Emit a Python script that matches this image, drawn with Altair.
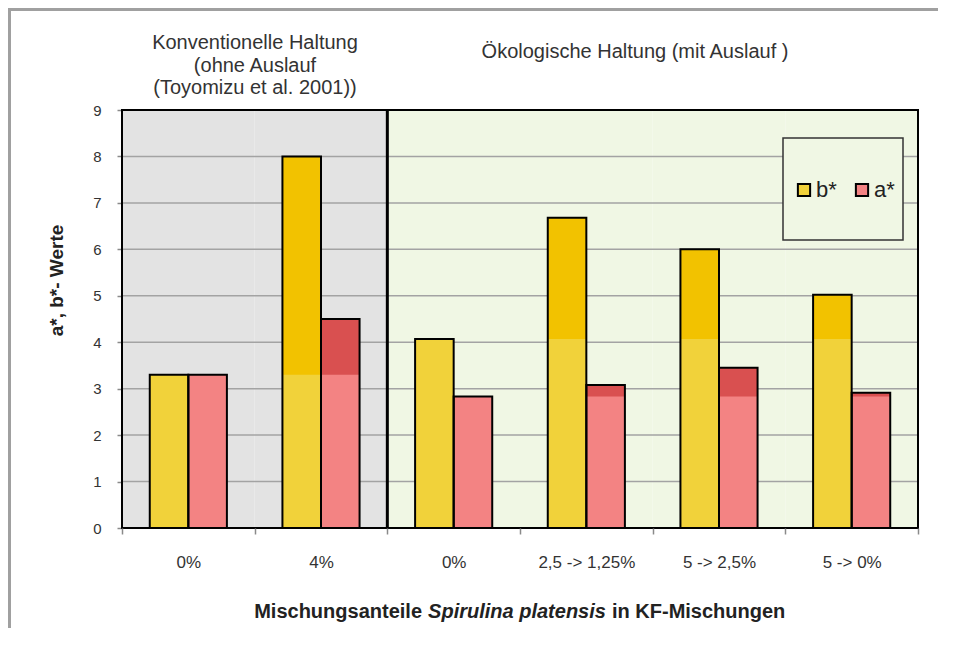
import altair as alt
import pandas as pd

# ---- data ----
categories = ["0%|k", "4%|k", "0%|o", "2,5 -> 1,25%|o", "5 -> 2,5%|o", "5 -> 0%|o"]
groups = ["k", "k", "o", "o", "o", "o"]
series = ["b*", "a*"]
b_values = [3.3, 8.0, 4.07, 6.68, 6.0, 5.02]
a_values = [3.3, 4.5, 2.83, 3.08, 3.45, 2.91]
b_control = [3.3, 3.3, 4.07, 4.07, 4.07, 4.07]
a_control = [3.3, 3.3, 2.83, 2.83, 2.83, 2.83]
y_ticks = [0, 1, 2, 3, 4, 5, 6, 7, 8, 9]
grid_ticks = [1, 2, 3, 4, 5, 6, 7, 8]

rows = []
for i, c in enumerate(categories):
    rows.append({"cat": c, "series": "b*", "value": b_values[i], "base": b_control[i]})
    rows.append({"cat": c, "series": "a*", "value": a_values[i], "base": a_control[i]})
bars = pd.DataFrame(rows)
tops = bars[bars["value"] > bars["base"] + 0.01]
bg = pd.DataFrame({"cat": categories, "group": groups})
grid = pd.DataFrame({"tick": grid_ticks})
one = pd.DataFrame({"cat": ["0%|o"]})

W, H = 796, 418
FONT = "Liberation Sans"

B_BASE, B_TOP = "#F1D23A", "#F2C200"
A_BASE, A_TOP = "#F38383", "#D95050"
GRAY_BG, GREEN_BG = "#E3E3E3", "#F0F7E4"

x_scale = alt.Scale(domain=categories, paddingInner=0, paddingOuter=0)
x_axis = alt.Axis(title=None, labelExpr="split(datum.label, '|')[0]", labelAngle=0,
                  tickBand="extent", tickColor="#8a8a8a", tickSize=6, tickWidth=1.5,
                  labelPadding=20, labelFontSize=17, labelColor="#333", labelFont=FONT,
                  domain=False, grid=False)
y_scale = alt.Scale(domain=[0, 9], nice=False)
y_axis = alt.Axis(title="a*, b*- Werte", values=y_ticks, grid=False, domain=False,
                  tickColor="#8a8a8a", tickSize=5, tickWidth=1.5, labelPadding=16,
                  labelFontSize=15, labelColor="#333", labelFont=FONT,
                  titleFontSize=19, titleFontWeight="bold", titleColor="#222",
                  titleFont=FONT, titlePadding=26, titleY=170)
xoff = alt.XOffset("series:N", scale=alt.Scale(domain=series, paddingOuter=0.72, paddingInner=0))

X = alt.X("cat:N", scale=x_scale, axis=x_axis)

background = alt.Chart(bg).mark_rect().encode(
    x=X, y=alt.value(0), y2=alt.value(H),
    color=alt.condition("datum.group === 'k'", alt.value(GRAY_BG), alt.value(GREEN_BG)),
)

gridlines = alt.Chart(grid).mark_rule(color="#a3a3a3", strokeWidth=1.5).encode(
    y=alt.Y("tick:Q", scale=y_scale, axis=y_axis)
)

legend_box = alt.Chart(one).mark_rect(fill=GREEN_BG, stroke="#333", strokeWidth=1.5).encode(
    x=alt.value(661), x2=alt.value(781), y=alt.value(28), y2=alt.value(130)
)

base_bars = alt.Chart(bars).mark_bar().encode(
    x=X, xOffset=xoff,
    y=alt.Y("value:Q", scale=y_scale, axis=y_axis, stack=False),
    color=alt.Color("series:N", scale=alt.Scale(domain=series, range=[B_BASE, A_BASE]),
                    legend=alt.Legend(orient="none", legendX=671, legendY=69,
                                      direction="horizontal", title=None,
                                      symbolType="square", symbolSize=150,
                                      symbolStrokeColor="black", symbolStrokeWidth=2,
                                      labelFontSize=22, labelColor="#222", labelFont=FONT,
                                      columnPadding=14, labelOffset=1, padding=0)),
)

top_bars = alt.Chart(tops).mark_bar().encode(
    x=X, xOffset=xoff,
    y=alt.Y("base:Q", scale=y_scale, axis=y_axis),
    y2="value:Q",
    color=alt.condition("datum.series === 'b*'", alt.value(B_TOP), alt.value(A_TOP)),
)

outline = alt.Chart(bars).mark_bar(fillOpacity=0, stroke="black", strokeWidth=2).encode(
    x=X, xOffset=xoff,
    y=alt.Y("value:Q", scale=y_scale, axis=y_axis, stack=False),
)

divider = alt.Chart(one).mark_rule(color="black", strokeWidth=3).encode(
    x=alt.X("cat:N", scale=x_scale, axis=x_axis, bandPosition=0),
    y=alt.value(0), y2=alt.value(H),
)

border = alt.Chart(one).mark_rect(fillOpacity=0, stroke="black", strokeWidth=2).encode(
    x=alt.value(0), x2=alt.value(W), y=alt.value(0), y2=alt.value(H)
)

konv_text = alt.Chart(one).mark_text(
    text="Konventionelle Haltung\n(ohne Auslauf\n(Toyomizu et al. 2001))",
    lineBreak="\n", lineHeight=22.5, font=FONT, fontSize=20, color="#333",
    align="center", baseline="top",
).encode(x=alt.value(133), y=alt.value(-77))

oeko_text = alt.Chart(one).mark_text(
    text="Ökologische Haltung (mit Auslauf )", font=FONT, fontSize=20, color="#333",
    align="center", baseline="middle",
).encode(x=alt.value(513), y=alt.value(-58))

TY = 502
title_left = alt.Chart(one).mark_text(
    text="Mischungsanteile", font=FONT, fontSize=20, fontWeight="bold", color="#222",
    align="right", baseline="middle").encode(x=alt.value(300), y=alt.value(TY))
title_mid = alt.Chart(one).mark_text(
    text="Spirulina platensis", font=FONT, fontSize=20, fontWeight="bold", fontStyle="italic",
    color="#222", align="center", baseline="middle").encode(x=alt.value(395), y=alt.value(TY))
title_right = alt.Chart(one).mark_text(
    text="in KF-Mischungen", font=FONT, fontSize=20, fontWeight="bold", color="#222",
    align="left", baseline="middle").encode(x=alt.value(490), y=alt.value(TY))

# outer picture frame: only top and left edges fall inside the drawing
frame_top = alt.Chart(one).mark_rule(color="#a0a0a0", strokeWidth=3).encode(
    x=alt.value(-114), x2=alt.value(W + 20), y=alt.value(-100.5))
frame_left = alt.Chart(one).mark_rule(color="#a0a0a0", strokeWidth=3).encode(
    x=alt.value(-112.5), y=alt.value(-102), y2=alt.value(H + 100))

chart = alt.layer(
    background, gridlines, legend_box, base_bars, top_bars, outline, divider, border,
    konv_text, oeko_text, title_left, title_mid, title_right, frame_top, frame_left,
).properties(
    width=W, height=H,
    autosize=alt.AutoSizeParams(type="none"),
    padding={"left": 114, "top": 102, "right": 20, "bottom": 100},
).configure_view(stroke=None)

chart.save("out.html", embed_options={"renderer": "svg", "actions": False})
